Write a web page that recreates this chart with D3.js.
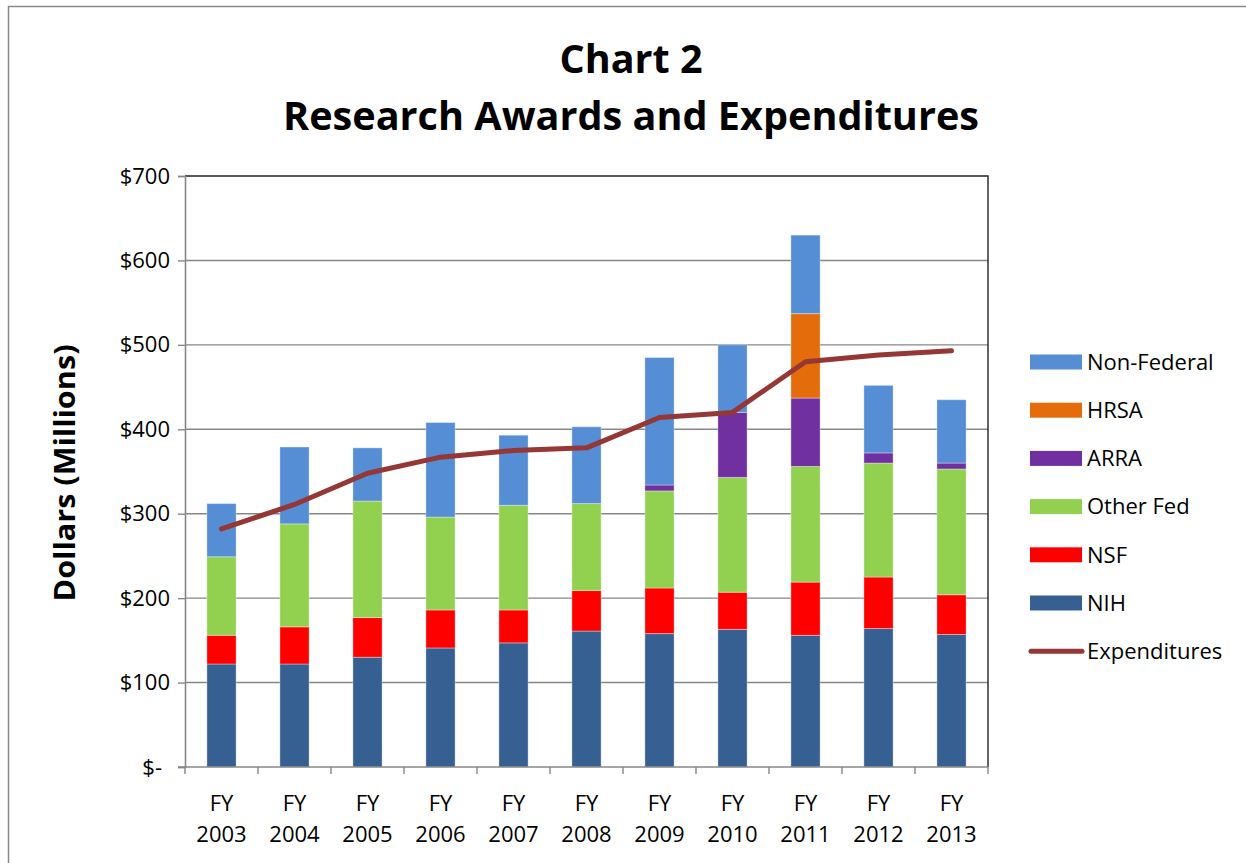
<!DOCTYPE html>
<meta charset="utf-8">
<script src="https://cdn.jsdelivr.net/npm/d3@7"></script>
<style>
  body { margin: 0; background: #fff; }
  text { font-family: "Open Sans", "Liberation Sans", sans-serif; fill: #000; }
</style>
<svg id="chart" width="1246" height="863"></svg>
<script>
// Data (millions of dollars)
var years      = ["2003","2004","2005","2006","2007","2008","2009","2010","2011","2012","2013"];
var nih        = [122, 122, 130, 141, 147, 161, 158, 163, 156, 164, 157];
var nsf        = [ 34,  44,  47,  45,  39,  48,  54,  44,  63,  61,  47];
var otherFed   = [ 93, 122, 138, 110, 124, 103, 115, 136, 137, 135, 149];
var arra       = [  0,   0,   0,   0,   0,   0,   7,  77,  81,  12,   7];
var hrsa       = [  0,   0,   0,   0,   0,   0,   0,   0, 100,   0,   0];
var nonFederal = [ 63,  91,  63, 112,  83,  91, 151,  80,  93,  80,  75];
var expenditures = [282, 311, 348, 367, 375, 378, 414, 420, 480, 488, 493];

var seriesKeys  = ["NIH", "NSF", "Other Fed", "ARRA", "HRSA", "Non-Federal"];
var seriesVals  = [nih, nsf, otherFed, arra, hrsa, nonFederal];
var colors      = ["#376092", "#ff0000", "#92d050", "#7030a0", "#e46c0a", "#558ed5"];
var yTicks      = [0, 100, 200, 300, 400, 500, 600, 700];

var svg = d3.select("#chart");

// chart border
svg.append("rect")
  .attr("x", 8.5).attr("y", 6.5)
  .attr("width", 1260).attr("height", 880)
  .attr("fill", "none").attr("stroke", "#888").attr("stroke-width", 1.5);

var plotL = 185, plotR = 988, plotT = 176, plotB = 767;

var x = d3.scaleBand().domain(years).range([plotL, plotR])
  .paddingInner(0.6).paddingOuter(0.3);
var y = d3.scaleLinear().domain([0, 700]).range([plotB, plotT]);

// table for stacking
var table = years.map(function(yr, i) {
  var row = { year: yr };
  seriesKeys.forEach(function(k, j) { row[k] = seriesVals[j][i]; });
  return row;
});
var stacked = d3.stack().keys(seriesKeys)(table);

// gridlines
svg.append("g").selectAll("line")
  .data(yTicks.slice(1, -1))
  .enter().append("line")
    .attr("x1", plotL).attr("x2", plotR)
    .attr("y1", function(d) { return y(d); })
    .attr("y2", function(d) { return y(d); })
    .attr("stroke", "#878787").attr("stroke-width", 1.4);

// plot area border (top/right)
svg.append("path")
  .attr("d", "M" + plotL + "," + plotT + "H" + plotR + "V" + plotB)
  .attr("fill", "none").attr("stroke", "#222").attr("stroke-width", 1.4);

// bars
svg.append("g").selectAll("g")
  .data(stacked)
  .enter().append("g")
    .attr("fill", function(d, i) { return colors[i]; })
  .selectAll("rect")
  .data(function(d) { return d.filter(function(p) { return p[1] - p[0] > 0; }); })
  .enter().append("rect")
    .attr("x", function(d) { return x(d.data.year); })
    .attr("width", x.bandwidth())
    .attr("y", function(d) { return y(d[1]); })
    .attr("height", function(d) { return y(d[0]) - y(d[1]); })
    .attr("stroke", "rgba(255,255,255,0.35)").attr("stroke-width", 1);

// y axis
var yAxis = svg.append("g")
  .attr("transform", "translate(" + plotL + ",0)")
  .call(d3.axisLeft(y).tickValues(yTicks).tickSize(7).tickPadding(8)
    .tickFormat(function(d) { return d === 0 ? "$-" : "$" + d; }));
yAxis.select(".domain").attr("stroke", "#878787").attr("stroke-width", 1.6);
yAxis.selectAll(".tick line").attr("stroke", "#878787").attr("stroke-width", 1.4);
yAxis.selectAll(".tick text")
  .style("font-size", "22px").style("font-family", "'Open Sans', sans-serif")
  .attr("dx", function(d) { return d === 0 ? -8 : 0; });

// x axis
var xb = d3.scaleLinear().domain([0, years.length]).range([plotL, plotR]);
var xAxis = svg.append("g");
xAxis.append("line")
  .attr("x1", plotL - 7).attr("x2", plotR)
  .attr("y1", plotB).attr("y2", plotB)
  .attr("stroke", "#878787").attr("stroke-width", 1.6);
xAxis.selectAll(".xt")
  .data(d3.range(years.length + 1))
  .enter().append("line")
    .attr("x1", function(d) { return xb(d); }).attr("x2", function(d) { return xb(d); })
    .attr("y1", plotB).attr("y2", plotB + 7)
    .attr("stroke", "#878787").attr("stroke-width", 1.4);
var xl = xAxis.selectAll(".xl")
  .data(years)
  .enter().append("text")
    .attr("text-anchor", "middle")
    .style("font-size", "22px");
xl.append("tspan")
  .attr("x", function(d) { return x(d) + x.bandwidth() / 2; })
  .attr("y", 811).text("FY");
xl.append("tspan")
  .attr("x", function(d) { return x(d) + x.bandwidth() / 2; })
  .attr("y", 842).text(function(d) { return d; });

// expenditures line
var line = d3.line()
  .x(function(d, i) { return x(years[i]) + x.bandwidth() / 2; })
  .y(function(d) { return y(d); });
svg.append("path")
  .datum(expenditures)
  .attr("d", line)
  .attr("fill", "none").attr("stroke", "#953735")
  .attr("stroke-width", 5).attr("stroke-linecap", "round").attr("stroke-linejoin", "round");

// titles
svg.append("text")
  .attr("x", 631).attr("y", 73).attr("text-anchor", "middle")
  .style("font-size", "40px").style("font-weight", "bold")
  .attr("textLength", 143).attr("lengthAdjust", "spacingAndGlyphs")
  .text("Chart 2");
svg.append("text")
  .attr("x", 631).attr("y", 130).attr("text-anchor", "middle")
  .style("font-size", "40px").style("font-weight", "bold")
  .attr("textLength", 696).attr("lengthAdjust", "spacingAndGlyphs")
  .text("Research Awards and Expenditures");
svg.append("text")
  .attr("transform", "translate(75,473) rotate(-90)")
  .attr("text-anchor", "middle")
  .style("font-size", "28px").style("font-weight", "bold")
  .attr("textLength", 257).attr("lengthAdjust", "spacingAndGlyphs")
  .text("Dollars (Millions)");

// legend
var legendKeys = seriesKeys.slice().reverse().concat(["Expenditures"]);
var legendColors = colors.slice().reverse().concat(["#953735"]);
var lg = svg.append("g").selectAll("g")
  .data(legendKeys)
  .enter().append("g")
    .attr("transform", function(d, i) { return "translate(1030," + (362 + i * 48.2) + ")"; });
lg.each(function(d, i) {
  var g = d3.select(this);
  if (d === "Expenditures") {
    g.append("line").attr("x1", 1).attr("x2", 52).attr("y1", 0).attr("y2", 0)
      .attr("stroke", legendColors[i]).attr("stroke-width", 5).attr("stroke-linecap", "round");
  } else {
    g.append("rect").attr("x", 0).attr("y", -7.5).attr("width", 52).attr("height", 15)
      .attr("fill", legendColors[i]);
  }
  g.append("text").attr("x", 57).attr("y", 0).attr("dy", "0.35em")
    .style("font-size", "22px").text(d);
});
</script>
